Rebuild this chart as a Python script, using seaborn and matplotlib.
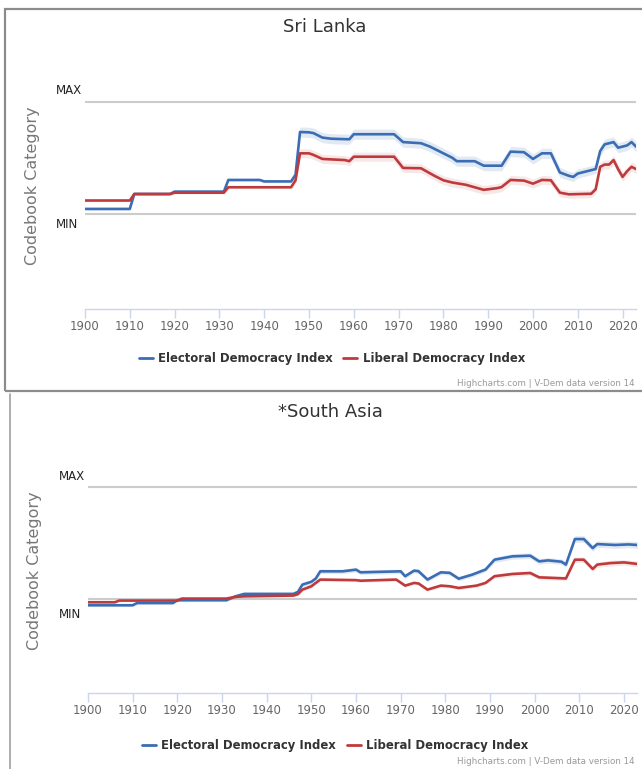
import numpy as np
import pandas as pd
import seaborn as sns
import matplotlib.pyplot as plt
from matplotlib.patches import Rectangle
from matplotlib.lines import Line2D

sns.set_theme(style="white")
plt.rcParams['font.family'] = ['DejaVu Sans']

# Sri Lanka - Electoral Democracy Index (breakpoints)
sl_edi_years = [1900, 1910, 1911, 1919, 1920, 1931, 1932, 1939, 1940, 1946, 1947, 1948,
                1950, 1951, 1953, 1955, 1959, 1960, 1969, 1971, 1975, 1977, 1980, 1982,
                1983, 1987, 1989, 1993, 1995, 1998, 2000, 2002, 2004, 2006, 2008, 2009,
                2010, 2013, 2014, 2015, 2016, 2017, 2018, 2019, 2020, 2021, 2022, 2023]
sl_edi = [0.045, 0.045, 0.178, 0.178, 0.199, 0.199, 0.303, 0.303, 0.29, 0.29, 0.35, 0.73,
          0.727, 0.72, 0.68, 0.67, 0.665, 0.71, 0.71, 0.64, 0.63, 0.60, 0.54, 0.50,
          0.47, 0.47, 0.43, 0.43, 0.555, 0.55, 0.49, 0.54, 0.54, 0.37, 0.34, 0.33,
          0.36, 0.39, 0.40, 0.56, 0.62, 0.63, 0.64, 0.59, 0.60, 0.61, 0.64, 0.60]
sl_edi_err = [0.01, 0.01, 0.01, 0.01, 0.012, 0.012, 0.012, 0.012, 0.012, 0.012, 0.03, 0.045,
              0.045, 0.045, 0.045, 0.045, 0.045, 0.045, 0.045, 0.045, 0.045, 0.045, 0.045, 0.045,
              0.045, 0.045, 0.045, 0.045, 0.045, 0.045, 0.045, 0.045, 0.045, 0.045, 0.04, 0.04,
              0.04, 0.04, 0.04, 0.045, 0.045, 0.045, 0.045, 0.045, 0.045, 0.045, 0.045, 0.045]

# Sri Lanka - Liberal Democracy Index
sl_ldi_years = [1900, 1910, 1911, 1919, 1920, 1931, 1932, 1946, 1947, 1948, 1950, 1951,
                1953, 1958, 1959, 1960, 1969, 1971, 1975, 1978, 1980, 1982, 1985, 1989,
                1992, 1993, 1995, 1998, 2000, 2002, 2004, 2006, 2008, 2013, 2014, 2015,
                2016, 2017, 2018, 2019, 2020, 2021, 2022, 2023]
sl_ldi = [0.12, 0.12, 0.178, 0.178, 0.19, 0.19, 0.238, 0.238, 0.30, 0.54, 0.54, 0.526,
          0.49, 0.48, 0.47, 0.51, 0.51, 0.41, 0.407, 0.34, 0.30, 0.28, 0.26, 0.215,
          0.23, 0.24, 0.303, 0.297, 0.27, 0.303, 0.30, 0.19, 0.175, 0.18, 0.22, 0.42,
          0.44, 0.44, 0.48, 0.40, 0.33, 0.38, 0.42, 0.40]
sl_ldi_err = [0.01, 0.01, 0.01, 0.01, 0.012, 0.012, 0.012, 0.012, 0.03, 0.04, 0.04, 0.04,
              0.04, 0.04, 0.04, 0.04, 0.04, 0.04, 0.04, 0.04, 0.04, 0.04, 0.04, 0.04,
              0.04, 0.04, 0.04, 0.04, 0.04, 0.04, 0.04, 0.035, 0.035, 0.035, 0.035, 0.04,
              0.04, 0.04, 0.04, 0.04, 0.04, 0.04, 0.04, 0.04]

# South Asia - Electoral Democracy Index
sa_edi_years = [1900, 1910, 1911, 1919, 1920, 1931, 1933, 1935, 1946, 1947, 1948, 1950,
                1951, 1952, 1957, 1960, 1961, 1970, 1971, 1973, 1974, 1976, 1979, 1981,
                1983, 1986, 1989, 1991, 1995, 1999, 2001, 2003, 2006, 2007, 2009, 2011,
                2013, 2014, 2018, 2021, 2023]
sa_edi = [-0.06, -0.06, -0.04, -0.04, -0.015, -0.015, 0.02, 0.042, 0.042, 0.06, 0.125, 0.15,
          0.18, 0.244, 0.244, 0.259, 0.235, 0.244, 0.20, 0.25, 0.245, 0.17, 0.235, 0.23,
          0.178, 0.214, 0.26, 0.348, 0.378, 0.384, 0.333, 0.342, 0.33, 0.304, 0.533, 0.533,
          0.452, 0.488, 0.48, 0.485, 0.48]
sa_edi_err = [0.012, 0.012, 0.012, 0.012, 0.012, 0.012, 0.012, 0.012, 0.012, 0.015, 0.02, 0.02,
              0.02, 0.02, 0.02, 0.02, 0.02, 0.02, 0.02, 0.02, 0.02, 0.02, 0.02, 0.02,
              0.02, 0.02, 0.02, 0.025, 0.025, 0.025, 0.025, 0.025, 0.025, 0.025, 0.03, 0.03,
              0.03, 0.03, 0.03, 0.03, 0.03]

# South Asia - Liberal Democracy Index
sa_ldi_years = [1900, 1906, 1907, 1920, 1921, 1931, 1933, 1935, 1946, 1947, 1948, 1950,
                1952, 1960, 1961, 1969, 1971, 1973, 1974, 1976, 1979, 1981, 1983, 1987,
                1989, 1991, 1995, 1999, 2001, 2007, 2009, 2011, 2013, 2014, 2017, 2020,
                2023]
sa_ldi = [-0.033, -0.033, -0.018, -0.018, 0.0, 0.0, 0.015, 0.02, 0.027, 0.04, 0.08, 0.11,
          0.17, 0.165, 0.16, 0.17, 0.116, 0.14, 0.135, 0.08, 0.116, 0.11, 0.095, 0.116,
          0.14, 0.20, 0.22, 0.229, 0.19, 0.18, 0.348, 0.348, 0.265, 0.304, 0.318, 0.324,
          0.31]
sa_ldi_err = [0.01, 0.01, 0.01, 0.01, 0.01, 0.01, 0.01, 0.01, 0.01, 0.012, 0.015, 0.015,
              0.015, 0.015, 0.015, 0.015, 0.015, 0.015, 0.015, 0.015, 0.015, 0.015, 0.015, 0.015,
              0.015, 0.02, 0.02, 0.02, 0.02, 0.02, 0.025, 0.025, 0.025, 0.025, 0.025, 0.025,
              0.025]

tick_years = list(range(1900, 2021, 10))

BLUE = "#3b6db4"
RED = "#bf3a3c"
W, H = 642, 769


def fx(px):
    return px / W


def fy(py):
    return 1 - py / H


fig = plt.figure(figsize=(W / 100, H / 100), dpi=100)
fig.patch.set_facecolor("white")


def draw_panel(rect, title, title_xy, max_xy, min_xy, ylab_xy, legend_xy, credit_y,
               edi_y, edi_v, edi_e, ldi_y, ldi_v, ldi_e):
    ax = fig.add_axes(rect)
    ax.set_facecolor("none")
    for yrs, vals, err, col, a in [(edi_y, edi_v, edi_e, BLUE, 0.15),
                                   (ldi_y, ldi_v, ldi_e, RED, 0.12)]:
        d = pd.DataFrame({"year": yrs, "value": vals, "err": err})
        ax.fill_between(d["year"], d["value"] - d["err"], d["value"] + d["err"],
                        color=col, alpha=a, lw=0)
        sns.lineplot(data=d, x="year", y="value", ax=ax, color=col, lw=1.9,
                     estimator=None, sort=False)
    ax.axhline(1, color="#cccccc", lw=1.5, zorder=0)
    ax.axhline(0, color="#cccccc", lw=1.5, zorder=0)
    ax.set_xlim(1900, 2023)
    ax.set_ylim(-0.846, 1.2)
    ax.set_xticks(tick_years)
    ax.set_xticklabels([str(t) for t in tick_years])
    ax.set_yticks([])
    ax.set_xlabel("")
    ax.set_ylabel("")
    for s in ["top", "left", "right"]:
        ax.spines[s].set_visible(False)
    ax.spines["bottom"].set_color("#ccd6eb")
    ax.spines["bottom"].set_linewidth(1)
    ax.tick_params(axis="x", direction="out", length=6.5, width=1, color="#ccd6eb",
                   labelcolor="#666666", labelsize=8.5, pad=1.5, bottom=True)

    fig.text(fx(title_xy[0]), fy(title_xy[1]), title, ha="center", va="center",
             fontsize=13, color="#333333")
    fig.text(fx(max_xy[0]), fy(max_xy[1]), "MAX", ha="right", va="center",
             fontsize=8.5, color="#222222")
    fig.text(fx(min_xy[0]), fy(min_xy[1]), "MIN", ha="right", va="center",
             fontsize=8.5, color="#222222")
    fig.text(fx(ylab_xy[0]), fy(ylab_xy[1]), "Codebook Category", ha="center",
             va="center", rotation=90, fontsize=11.5, color="#777777")
    handles = [Line2D([], [], color=BLUE, lw=2), Line2D([], [], color=RED, lw=2)]
    fig.legend(handles, ["Electoral Democracy Index", "Liberal Democracy Index"],
               loc="center", bbox_to_anchor=(fx(legend_xy[0]), fy(legend_xy[1])),
               ncol=2, frameon=False, handlelength=1.2, handletextpad=0.45,
               columnspacing=0.9, prop={"weight": "bold", "size": 8.4},
               labelcolor="#333333")
    fig.text(fx(635), fy(credit_y), "Highcharts.com | V-Dem data version 14",
             ha="right", va="center", fontsize=6.3, color="#999999")
    return ax


# top panel: Sri Lanka
draw_panel([fx(85), fy(309), (636 - 85) / W, (309 - 79.2) / H],
           "Sri Lanka", (325, 27), (82, 90), (78, 225), (33, 186), (332, 359), 383,
           sl_edi_years, sl_edi, sl_edi_err, sl_ldi_years, sl_ldi, sl_ldi_err)

# bottom panel: South Asia
draw_panel([fx(88), fy(693), (637.4 - 88) / W, (693 - 464.6) / H],
           "*South Asia", (330, 412), (85, 476), (81, 614), (35, 571), (335, 746), 762,
           sa_edi_years, sa_edi, sa_edi_err, sa_ldi_years, sa_ldi, sa_ldi_err)

# panel frames
fig.add_artist(Rectangle((fx(5), fy(391)), fx(660) - fx(5), fy(9) - fy(391),
                         transform=fig.transFigure, fill=False, ec="#8c8c8c", lw=1.6))
fig.add_artist(Line2D([fx(10.5), fx(10.5)], [fy(394), 0], transform=fig.transFigure,
                      color="#a0a0a0", lw=1.2))

fig.savefig("out.png", dpi=100)
